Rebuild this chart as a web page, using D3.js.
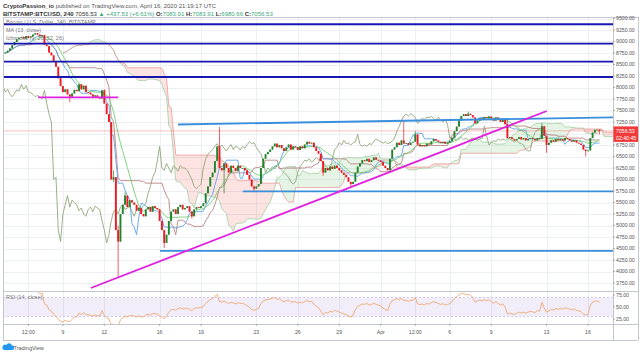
<!DOCTYPE html>
<html>
<head>
<meta charset="utf-8">
<script src="https://cdnjs.cloudflare.com/ajax/libs/d3/7.8.5/d3.min.js"></script>
<style>
  body { margin: 0; background: #fff; }
  svg { display: block; font-family: "Liberation Sans", Arial, sans-serif; }
</style>
</head>
<body>
<svg id="chart" width="640" height="353"></svg>
<script>
// 4h BTCUSD candles, Mar 4 20:00 UTC .. Apr 16 20:00 UTC (closes, one row per day)
const firstBar = Date.UTC(2020, 2, 4, 20);
const barMs = 4 * 3600 * 1000;
const firstOpen = 8740;
const closes = [
  8760,
  8800, 8850, 8920, 8990, 9050, 9080,   // Mar 5
  9100, 9060, 9120, 9080, 9110, 9150,   // Mar 6
  9180, 9150, 9120, 9140, 8930, 8900,   // Mar 7
  8760, 8700, 8560, 8450, 8200, 8030,   // Mar 8
  7900, 7960, 7850, 7800, 7870, 7950,   // Mar 9
  7920, 8070, 7960, 8040, 7900, 7890,   // Mar 10
  7850, 7800, 7830, 7790, 7760, 7940,   // Mar 11
  7650, 7420, 7250, 6000, 6050, 4900,   // Mar 12
  4650, 5250, 5450, 5650, 5400, 5550,   // Mar 13
  5500, 5450, 5320, 5380, 5250, 5200,   // Mar 14
  5350, 5400, 5300, 5420, 5380, 5350,   // Mar 15
  5100, 4900, 4620, 4800, 5100, 5300,   // Mar 16
  5350, 5250, 5400, 5450, 5350, 5380,   // Mar 17
  5420, 5300, 5200, 5350, 5400, 5380,   // Mar 18
  5420, 5480, 5700, 5850, 6050, 6150,   // Mar 19
  6400, 6720, 6250, 6200, 6350, 6250,   // Mar 20
  6150, 6300, 6250, 6180, 6300, 6250,   // Mar 21
  6250, 6200, 6100, 6000, 5850, 5800,   // Mar 22
  5850, 5900, 6250, 6450, 6550, 6600,   // Mar 23
  6650, 6720, 6780, 6700, 6750, 6680,   // Mar 24
  6620, 6700, 6760, 6650, 6720, 6700,   // Mar 25
  6640, 6720, 6680, 6760, 6820, 6780,   // Mar 26
  6800, 6700, 6620, 6560, 6400, 6150,   // Mar 27
  6250, 6200, 6280, 6230, 6300, 6250,   // Mar 28
  6200, 6150, 6100, 6050, 5950, 5900,   // Mar 29
  5950, 6150, 6280, 6350, 6420, 6400,   // Mar 30
  6450, 6380, 6420, 6480, 6430, 6410,   // Mar 31
  6380, 6300, 6250, 6200, 6450, 6650,   // Apr 1
  6700, 6800, 6750, 6850, 6780, 6790,   // Apr 2
  6750, 6800, 6820, 6980, 6760, 6720,   // Apr 3
  6750, 6720, 6780, 6760, 6830, 6880,   // Apr 4
  6850, 6820, 6790, 6820, 6780, 6800,   // Apr 5
  6830, 6900, 7050, 7150, 7280, 7380,   // Apr 6
  7420, 7380, 7430, 7400, 7350, 7220,   // Apr 7
  7280, 7330, 7300, 7360, 7340, 7370,   // Apr 8
  7330, 7280, 7350, 7300, 7250, 7300,   // Apr 9
  7200, 6900, 6920, 6880, 6850, 6880,   // Apr 10
  6920, 6870, 6900, 6850, 6880, 6900,   // Apr 11
  6880, 6850, 6900, 6880, 7160, 6950,   // Apr 12
  6750, 6800, 6850, 6820, 6880, 6850,   // Apr 13
  6880, 6850, 6900, 6880, 6850, 6820,   // Apr 14
  6850, 6800, 6780, 6750, 6650, 6619,   // Apr 15
  6630, 6900, 7020, 7080, 7083.91, 7056.53 // Apr 16
];

// wicks that stick out of the body: [bar open time, high, low]
const wicks = [
  ["2020-03-09T12:00Z", null, 7680],
  ["2020-03-12T00:00Z", 7960, null],
  ["2020-03-12T16:00Z", 6200, 5950],
  ["2020-03-13T00:00Z", 5000, 3880],
  ["2020-03-13T12:00Z", 5720, null],
  ["2020-03-16T08:00Z", null, 4510],
  ["2020-03-18T08:00Z", null, 5150],
  ["2020-03-20T08:00Z", 7140, null],
  ["2020-03-20T16:00Z", null, 5700],
  ["2020-03-22T20:00Z", null, 5720],
  ["2020-03-27T20:00Z", null, 6080],
  ["2020-03-29T20:00Z", null, 5860],
  ["2020-04-02T16:00Z", 7280, null],
  ["2020-04-03T12:00Z", 7050, null],
  ["2020-04-07T08:00Z", 7474, null],
  ["2020-04-10T04:00Z", 7300, null],
  ["2020-04-12T16:00Z", 7220, null],
  ["2020-04-13T00:00Z", null, 6580],
  ["2020-04-15T20:00Z", null, 6500],
  ["2020-04-16T20:00Z", 7083.91, 6980.66]
];

// drawings
const levelLines = [9375, 8952, 8561, 8228];            // dark blue horizontals
const rayLines = [                                        // light blue lines
  { t1: "2020-03-16T00:30Z", p1: 4450, t2: "2020-04-17T19:25Z", p2: 4450 },
  { t1: "2020-03-22T00:30Z", p1: 5740, t2: "2020-04-17T19:25Z", p2: 5740 },
  { t1: "2020-03-17T08:00Z", p1: 7196, t2: "2020-04-17T19:25Z", p2: 7352 }
];
const magentaLines = [
  { t1: "2020-03-07T05:00Z", p1: 7787, t2: "2020-03-13T00:00Z", p2: 7787 },
  { t1: "2020-03-11T00:40Z", p1: 3641, t2: "2020-04-13T00:20Z", p2: 7489 }
];

const priceTicks = d3.range(3750, 9501, 250);
const rsiTicks = [75, 50, 25];
const timeTicks = ["2020-03-06T12:00Z", "2020-03-09T00:00Z", "2020-03-12T00:00Z", "2020-03-16T00:00Z",
  "2020-03-19T00:00Z", "2020-03-23T00:00Z", "2020-03-26T00:00Z", "2020-03-29T00:00Z",
  "2020-04-01T00:00Z", "2020-04-03T12:00Z", "2020-04-06T00:00Z", "2020-04-09T00:00Z",
  "2020-04-13T00:00Z", "2020-04-16T00:00Z"];
const timeTickLabels = ["12:00", "9", "12", "16", "19", "23", "26", "29", "Apr", "12:00", "6", "9", "13", "16"];

// ---- bars ----
const bars = closes.map((c, i) => {
  const o = i ? closes[i - 1] : firstOpen;
  return { t: new Date(firstBar + i * barMs), o: o, c: c, h: Math.max(o, c), l: Math.min(o, c) };
});
wicks.forEach(([iso, h, l]) => {
  const b = bars[Math.round((Date.parse(iso) - firstBar) / barMs)];
  if (h != null) b.h = h;
  if (l != null) b.l = l;
});

// ---- layout ----
const L = 3, R = 613, T = 17, B = 291, rsiB = 324, axisB = 340;
const svg = d3.select("#chart");
const x = d3.scaleUtc()
  .domain([new Date(Date.UTC(2020, 2, 4, 16)), new Date(Date.UTC(2020, 3, 17, 19, 25))])
  .range([L, R]);
const y = d3.scaleLinear().domain([3750, 9250]).range([283, 30]);
const yr = d3.scaleLinear().domain([25, 75]).range([319, 295]);

// ---- indicators ----
function mid(i, n) {
  const s = bars.slice(Math.max(0, i - n + 1), i + 1);
  return (d3.max(s, d => d.h) + d3.min(s, d => d.l)) / 2;
}
const shift = 25;
const ichi = bars.map((b, i) => ({ t: b.t, tenkan: mid(i, 9), kijun: mid(i, 26), spanB: mid(i, 52) }));
const lead = ichi.map(d => ({ t: new Date(+d.t + shift * barMs), a: (d.tenkan + d.kijun) / 2, b: d.spanB }));
const lag = bars.map(b => ({ t: new Date(+b.t - shift * barMs), v: b.c }));
const ma = bars.map((b, i) => i < 12 ? null : { t: b.t, v: d3.mean(bars.slice(i - 12, i + 1), d => d.c) }).filter(d => d);

const rsi = [];
let au = 0, ad = 0;
for (let i = 1; i < bars.length; i++) {
  const ch = bars[i].c - bars[i - 1].c;
  const u = Math.max(ch, 0), dn = Math.max(-ch, 0);
  const n = Math.min(i, 14);
  au = (au * (n - 1) + u) / n;
  ad = (ad * (n - 1) + dn) / n;
  rsi.push({ t: bars[i].t, v: ad === 0 ? 100 : 100 - 100 / (1 + au / ad) });
}

// ---- header ----
const head = svg.append("g").style("font-size", "6px");
const h1 = head.append("text").attr("x", 3).attr("y", 7.5).attr("fill", "#555");
h1.append("tspan").attr("font-weight", "bold").attr("fill", "#333").text("CryptoPassion_io");
h1.append("tspan").text(" published on TradingView.com, April 16, 2020 21:19:17 UTC");
const h2 = head.append("text").attr("x", 3).attr("y", 15.5).attr("fill", "#333");
h2.append("tspan").attr("font-weight", "bold").text("BITSTAMP:BTCUSD, 240");
h2.append("tspan").text(" 7056.53 ");
h2.append("tspan").attr("fill", "#3aa77a").text("\u25B2 +437.53 (+6.61%)");
[["O:", "7083.91"], ["H:", "7083.91"], ["L:", "6980.66"], ["C:", "7056.53"]].forEach(([k, v]) => {
  h2.append("tspan").attr("font-weight", "bold").text(" " + k);
  h2.append("tspan").attr("fill", "#3aa77a").text(v);
});

// ---- grid ----
const grid = svg.append("g").attr("stroke", "#eceff4").attr("stroke-width", 1);
grid.selectAll(".gy").data(priceTicks.filter(p => y(p) > T)).join("line")
  .attr("x1", L).attr("x2", R).attr("y1", d => Math.round(y(d)) + 0.5).attr("y2", d => Math.round(y(d)) + 0.5);
grid.selectAll(".gx").data(timeTicks).join("line")
  .attr("x1", d => Math.round(x(new Date(d))) + 0.5).attr("x2", d => Math.round(x(new Date(d))) + 0.5)
  .attr("y1", T).attr("y2", rsiB);

// ---- main pane ----
svg.append("clipPath").attr("id", "pane").append("rect")
  .attr("x", L).attr("y", T).attr("width", R - L).attr("height", B - T);
const pane = svg.append("g").attr("clip-path", "url(#pane)");

const redCloud = d3.area().x(d => x(d.t)).y0(d => y(d.a)).y1(d => y(Math.max(d.a, d.b)));
const greenCloud = d3.area().x(d => x(d.t)).y0(d => y(d.b)).y1(d => y(Math.max(d.a, d.b)));
pane.append("path").datum(lead).attr("d", redCloud).attr("fill", "rgba(244,67,54,0.15)");
pane.append("path").datum(lead).attr("d", greenCloud).attr("fill", "rgba(76,175,80,0.14)");

const line = (fy, key) => d3.line().x(d => x(d.t)).y(d => fy(d[key]));
pane.append("path").datum(lead).attr("d", line(y, "a")).attr("fill", "none").attr("stroke", "#9fcf9f").attr("stroke-width", 0.8);
pane.append("path").datum(lead).attr("d", line(y, "b")).attr("fill", "none").attr("stroke", "#eb9898").attr("stroke-width", 0.8);
pane.append("path").datum(lag).attr("d", line(y, "v")).attr("fill", "none").attr("stroke", "#8fa878").attr("stroke-width", 0.9);
pane.append("path").datum(ichi).attr("d", line(y, "kijun")).attr("fill", "none").attr("stroke", "#b07272").attr("stroke-width", 0.8);
pane.append("path").datum(ichi).attr("d", line(y, "tenkan")).attr("fill", "none").attr("stroke", "#5fa3e3").attr("stroke-width", 0.9);
pane.append("path").datum(ma).attr("d", line(y, "v")).attr("fill", "none").attr("stroke", "#72d072").attr("stroke-width", 0.9);

// price line
pane.append("line").attr("x1", L).attr("x2", R)
  .attr("y1", y(closes[closes.length - 1])).attr("y2", y(closes[closes.length - 1]))
  .attr("stroke", "rgba(240,80,80,0.45)").attr("stroke-width", 0.8);

// candles
const up = "#23842f", down = "#ec1c24";
const cg = pane.append("g");
cg.selectAll(".wick").data(bars).join("line")
  .attr("x1", d => x(d.t)).attr("x2", d => x(d.t))
  .attr("y1", d => y(d.h)).attr("y2", d => y(d.l))
  .attr("stroke", d => d.c >= d.o ? up : down).attr("stroke-width", 0.7);
cg.selectAll(".body").data(bars).join("rect")
  .attr("x", d => x(d.t) - 0.95).attr("width", 1.9)
  .attr("y", d => y(Math.max(d.o, d.c)))
  .attr("height", d => Math.max(0.8, Math.abs(y(d.o) - y(d.c))))
  .attr("fill", d => d.c >= d.o ? up : down);

// drawings
pane.selectAll(".lvl").data(levelLines).join("line")
  .attr("x1", L).attr("x2", R).attr("y1", d => y(d)).attr("y2", d => y(d))
  .attr("stroke", "#1717b0").attr("stroke-width", 1.8);
pane.selectAll(".ray").data(rayLines).join("line")
  .attr("x1", d => x(new Date(d.t1))).attr("x2", d => x(new Date(d.t2)))
  .attr("y1", d => y(d.p1)).attr("y2", d => y(d.p2))
  .attr("stroke", "#3a8fdc").attr("stroke-width", 1.8);
pane.selectAll(".mag").data(magentaLines).join("line")
  .attr("x1", d => x(new Date(d.t1))).attr("x2", d => x(new Date(d.t2)))
  .attr("y1", d => y(d.p1)).attr("y2", d => y(d.p2))
  .attr("stroke", "#e020e0").attr("stroke-width", 1.8);

// legend
const lg = svg.append("g").style("font-size", "5.5px").attr("fill", "#777");
lg.append("text").attr("x", 6).attr("y", 24).text("Bitcoin / U.S. Dollar, 240, BITSTAMP");
lg.append("text").attr("x", 6).attr("y", 32).text("MA (13, close)");
lg.append("text").attr("x", 6).attr("y", 40).text("Ichimoku (9, 26, 52, 26)");

// ---- RSI pane ----
svg.append("rect").attr("x", L).attr("width", R - L).attr("y", yr(70)).attr("height", yr(30) - yr(70))
  .attr("fill", "rgba(149,117,205,0.13)");
[70, 30].forEach(v => svg.append("line").attr("x1", L).attr("x2", R).attr("y1", yr(v)).attr("y2", yr(v))
  .attr("stroke", "#b7a6d8").attr("stroke-width", 0.6).attr("stroke-dasharray", "2,2"));
svg.append("clipPath").attr("id", "rsiclip").append("rect")
  .attr("x", L).attr("y", B).attr("width", R - L).attr("height", rsiB - B);
svg.append("g").attr("clip-path", "url(#rsiclip)").append("path").datum(rsi)
  .attr("d", line(yr, "v")).attr("fill", "none").attr("stroke", "#f0a060").attr("stroke-width", 0.8);
svg.append("text").attr("x", 6).attr("y", 299).style("font-size", "5.5px").attr("fill", "#777").text("RSI (14, close)");

// ---- frame ----
const fr = svg.append("g").attr("stroke", "#c3c6cc").attr("stroke-width", 1);
[[L, T, 638, T], [L, B, 638, B], [L, rsiB, 638, rsiB], [L, axisB, 638, axisB]]
  .forEach(([a, b, c, d]) => fr.append("line").attr("x1", a).attr("y1", b + 0.5).attr("x2", c).attr("y2", d + 0.5));
[[L, T, L, axisB], [R, T, R, axisB], [638, T, 638, axisB]]
  .forEach(([a, b, c, d]) => fr.append("line").attr("x1", a + 0.5).attr("y1", b).attr("x2", c + 0.5).attr("y2", d));

// ---- price axis ----
const last = closes[closes.length - 1];
const boxTop = y(last) - 4.5, boxBottom = boxTop + 15.5;
const pa = svg.append("g").style("font-size", "5.2px").attr("fill", "#555");
priceTicks.forEach(p => {
  const yy = y(p);
  pa.append("line").attr("x1", R).attr("x2", R + 2).attr("y1", yy).attr("y2", yy).attr("stroke", "#888").attr("stroke-width", 0.6);
  if (yy > boxTop - 3 && yy < boxBottom + 3) return;   // hidden under the last-price label
  pa.append("text").attr("x", R + 3).attr("y", yy).attr("dy", "0.35em").text(p.toFixed(2));
});
rsiTicks.forEach(v => {
  const yy = yr(v);
  pa.append("line").attr("x1", R).attr("x2", R + 2).attr("y1", yy).attr("y2", yy).attr("stroke", "#888").attr("stroke-width", 0.6);
  pa.append("text").attr("x", R + 3).attr("y", yy).attr("dy", "0.35em").text(v.toFixed(2));
});
svg.append("rect").attr("x", R + 0.5).attr("y", boxTop).attr("width", 24.5).attr("height", boxBottom - boxTop).attr("fill", "#f23a3a");
svg.append("text").attr("x", R + 3).attr("y", y(last)).attr("dy", "0.35em").style("font-size", "5.2px").attr("fill", "#fff").text(last.toFixed(2));
svg.append("text").attr("x", R + 3).attr("y", y(last) + 7).attr("dy", "0.35em").style("font-size", "5.2px").attr("fill", "#fff").text("02:40:45");

// ---- time axis ----
const ta = svg.append("g").style("font-size", "5.2px").attr("fill", "#555").attr("text-anchor", "middle");
timeTicks.forEach((d, i) => {
  const xx = x(new Date(d));
  ta.append("line").attr("x1", xx).attr("x2", xx).attr("y1", rsiB).attr("y2", rsiB + 2).attr("stroke", "#888").attr("stroke-width", 0.6);
  ta.append("text").attr("x", xx).attr("y", 334).text(timeTickLabels[i]);
});

// ---- logo ----
const logo = svg.append("g");
logo.append("path").attr("d", "M4,350 h8 a2.2,2.2 0 0 0 0,-4.4 a3,3 0 0 0 -5.6,-0.6 a2.4,2.4 0 0 0 -2.4,5 z").attr("fill", "#2196f3");
logo.append("text").attr("x", 13.5).attr("y", 349.5).style("font-size", "5.5px").attr("fill", "#555").text("TradingView");
</script>
</body>
</html>
